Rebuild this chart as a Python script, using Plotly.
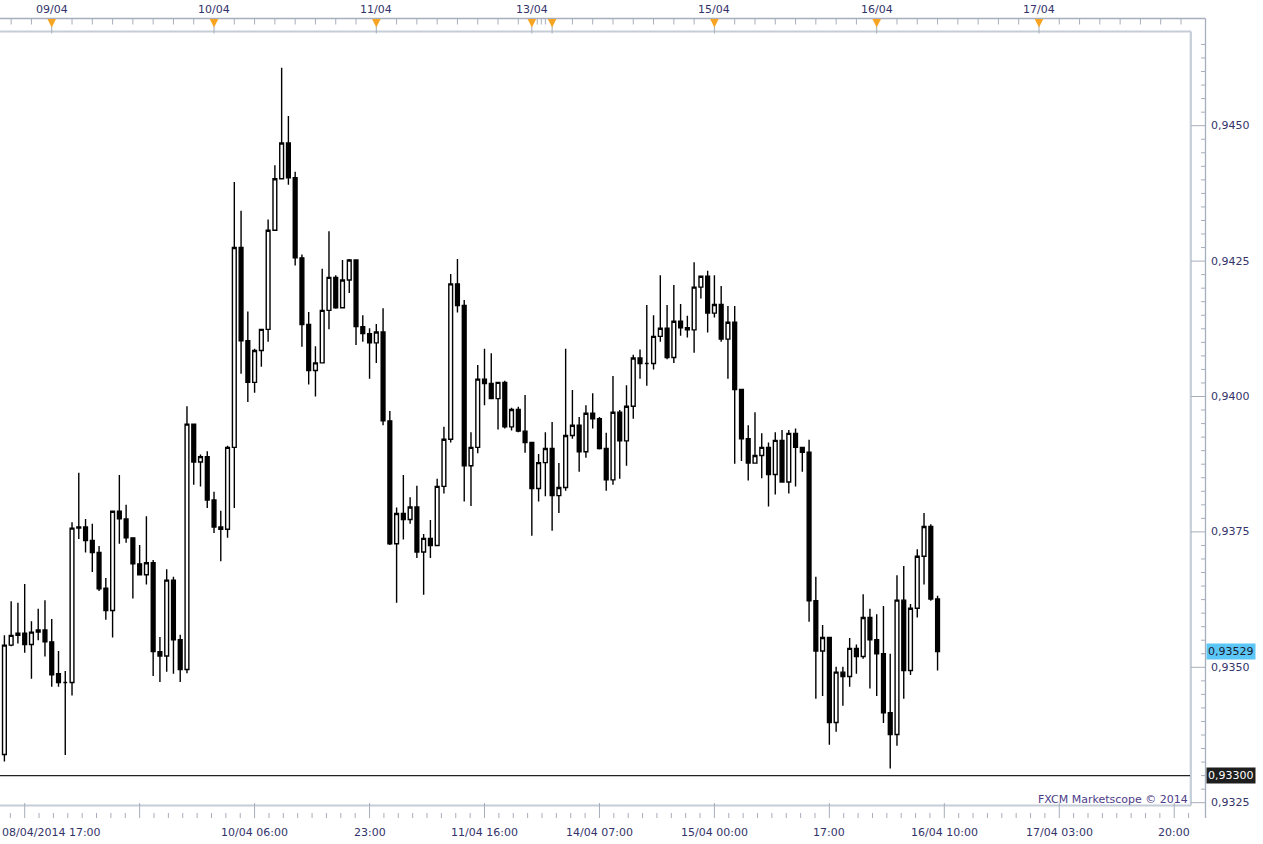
"""
plot.py - EUR/CHF style hourly candles (FXCM Marketscope look) rebuilt with Plotly.
"""
import plotly.graph_objects as go

# -----------------------------------------------------------------------------
# Data: hourly candles, 08/04/2014 17:00 onward (index = candle number)
# -----------------------------------------------------------------------------
OPEN = [
    0.93339, 0.93541, 0.93559, 0.93563, 0.93542, 0.93565, 0.93569, 0.93547, 0.93488, 0.93472,
    0.93472, 0.93759, 0.93759, 0.93734, 0.93712, 0.93646, 0.93605, 0.93788, 0.93774, 0.93739,
    0.93691, 0.93671, 0.93693, 0.93529, 0.93521, 0.93661, 0.93551, 0.93496, 0.93949, 0.93879,
    0.93889, 0.93809, 0.93759, 0.93755, 0.93906, 0.94275, 0.94103, 0.94026, 0.94085, 0.94124,
    0.94307, 0.94402, 0.94468, 0.94404, 0.94256, 0.94133, 0.94048, 0.94062, 0.94159, 0.94220,
    0.94164, 0.94215, 0.94252, 0.94129, 0.94116, 0.94099, 0.94119, 0.93955, 0.93728, 0.93784,
    0.93773, 0.93796, 0.93713, 0.93738, 0.93725, 0.93834, 0.93921, 0.94208, 0.94168, 0.93872,
    0.93906, 0.94032, 0.94024, 0.93996, 0.94026, 0.93944, 0.93976, 0.93936, 0.93915, 0.93830,
    0.93878, 0.93904, 0.93817, 0.93832, 0.93928, 0.93947, 0.93898, 0.93969, 0.93959, 0.93904,
    0.93846, 0.93971, 0.93918, 0.93982, 0.94071, 0.94061, 0.94061, 0.94111, 0.94126, 0.94072,
    0.94139, 0.94127, 0.94123, 0.94202, 0.94222, 0.94154, 0.94170, 0.94106, 0.94137, 0.94013,
    0.93922, 0.93877, 0.93891, 0.93906, 0.93856, 0.93919, 0.93842, 0.93932, 0.93906, 0.93897,
    0.93623, 0.93530, 0.93555, 0.93398, 0.93491, 0.93483, 0.93535, 0.93520, 0.93592, 0.93551,
    0.93525, 0.93416, 0.93376, 0.93624, 0.93494, 0.93609, 0.93705, 0.93760, 0.93626,
]
HIGH = [
    0.93559, 0.93622, 0.93619, 0.93654, 0.93585, 0.93608, 0.93624, 0.93589, 0.93530, 0.93493,
    0.93768, 0.93859, 0.93774, 0.93765, 0.93724, 0.93665, 0.93788, 0.93855, 0.93800, 0.93739,
    0.93726, 0.93779, 0.93698, 0.93556, 0.93681, 0.93667, 0.93560, 0.93982, 0.93949, 0.93893,
    0.93899, 0.93824, 0.93789, 0.93909, 0.94396, 0.94343, 0.94157, 0.94088, 0.94124, 0.94327,
    0.94427, 0.94607, 0.94518, 0.94415, 0.94262, 0.94156, 0.94093, 0.94236, 0.94305, 0.94224,
    0.94252, 0.94254, 0.94253, 0.94150, 0.94126, 0.94134, 0.94163, 0.93973, 0.93795, 0.93855,
    0.93814, 0.93835, 0.93746, 0.93772, 0.93848, 0.93944, 0.94226, 0.94254, 0.94178, 0.93934,
    0.94058, 0.94088, 0.94080, 0.94026, 0.94029, 0.93979, 0.93981, 0.94003, 0.93915, 0.93894,
    0.93934, 0.93953, 0.93877, 0.94088, 0.94012, 0.93962, 0.93984, 0.94006, 0.93962, 0.93933,
    0.94038, 0.93975, 0.94021, 0.94077, 0.94087, 0.94169, 0.94150, 0.94224, 0.94169, 0.94206,
    0.94171, 0.94149, 0.94248, 0.94222, 0.94232, 0.94224, 0.94204, 0.94167, 0.94167, 0.94013,
    0.93947, 0.93971, 0.93932, 0.93915, 0.93934, 0.93938, 0.93938, 0.93941, 0.93906, 0.93920,
    0.93667, 0.93578, 0.93555, 0.93501, 0.93501, 0.93554, 0.93542, 0.93635, 0.93608, 0.93598,
    0.93613, 0.93525, 0.93670, 0.93687, 0.93617, 0.93718, 0.93785, 0.93764, 0.93632,
]
LOW = [
    0.93326, 0.93539, 0.93544, 0.93527, 0.93479, 0.93550, 0.93520, 0.93464, 0.93464, 0.93338,
    0.93448, 0.93737, 0.93712, 0.93676, 0.93641, 0.93588, 0.93555, 0.93728, 0.93730, 0.93627,
    0.93671, 0.93653, 0.93484, 0.93473, 0.93492, 0.93488, 0.93473, 0.93489, 0.93837, 0.93834,
    0.93794, 0.93748, 0.93696, 0.93739, 0.93794, 0.94042, 0.93990, 0.94007, 0.94055, 0.94101,
    0.94307, 0.94402, 0.94391, 0.94242, 0.94092, 0.94022, 0.94000, 0.94062, 0.94124, 0.94162,
    0.94164, 0.94191, 0.94095, 0.94101, 0.94033, 0.94062, 0.93947, 0.93726, 0.93619, 0.93736,
    0.93765, 0.93702, 0.93634, 0.93702, 0.93725, 0.93821, 0.93915, 0.94155, 0.93806, 0.93798,
    0.93895, 0.93984, 0.93996, 0.93939, 0.93941, 0.93937, 0.93934, 0.93896, 0.93743, 0.93806,
    0.93816, 0.93752, 0.93785, 0.93826, 0.93922, 0.93861, 0.93887, 0.93941, 0.93902, 0.93826,
    0.93837, 0.93848, 0.93872, 0.93959, 0.94033, 0.94020, 0.94050, 0.94101, 0.94069, 0.94062,
    0.94112, 0.94109, 0.94081, 0.94181, 0.94118, 0.94146, 0.94101, 0.94033, 0.93876, 0.93881,
    0.93845, 0.93877, 0.93849, 0.93797, 0.93819, 0.93841, 0.93821, 0.93834, 0.93861, 0.93584,
    0.93442, 0.93447, 0.93357, 0.93381, 0.93429, 0.93464, 0.93488, 0.93516, 0.93461, 0.93447,
    0.93397, 0.93313, 0.93355, 0.93442, 0.93486, 0.93592, 0.93653, 0.93623, 0.93494,
]
CLOSE = [
    0.93541, 0.93559, 0.93563, 0.93542, 0.93565, 0.93569, 0.93547, 0.93486, 0.93472, 0.93472,
    0.93757, 0.93757, 0.93734, 0.93712, 0.93645, 0.93605, 0.93788, 0.93774, 0.93739, 0.93691,
    0.93671, 0.93693, 0.93529, 0.93521, 0.93661, 0.93551, 0.93496, 0.93949, 0.93879, 0.93889,
    0.93809, 0.93759, 0.93755, 0.93906, 0.94275, 0.94103, 0.94026, 0.94085, 0.94124, 0.94307,
    0.94402, 0.94468, 0.94404, 0.94256, 0.94133, 0.94048, 0.94062, 0.94159, 0.94220, 0.94164,
    0.94215, 0.94252, 0.94129, 0.94116, 0.94099, 0.94119, 0.93955, 0.93728, 0.93784, 0.93773,
    0.93796, 0.93713, 0.93738, 0.93725, 0.93834, 0.93921, 0.94208, 0.94168, 0.93872, 0.93906,
    0.94032, 0.94024, 0.93996, 0.94026, 0.93944, 0.93976, 0.93936, 0.93915, 0.93830, 0.93878,
    0.93904, 0.93817, 0.93832, 0.93928, 0.93947, 0.93898, 0.93969, 0.93959, 0.93904, 0.93846,
    0.93971, 0.93918, 0.93982, 0.94071, 0.94061, 0.94061, 0.94111, 0.94126, 0.94072, 0.94139,
    0.94127, 0.94123, 0.94202, 0.94222, 0.94154, 0.94170, 0.94106, 0.94137, 0.94013, 0.93922,
    0.93877, 0.93891, 0.93906, 0.93856, 0.93919, 0.93842, 0.93932, 0.93906, 0.93897, 0.93623,
    0.93530, 0.93555, 0.93398, 0.93491, 0.93483, 0.93535, 0.93520, 0.93592, 0.93551, 0.93525,
    0.93416, 0.93376, 0.93624, 0.93494, 0.93609, 0.93705, 0.93760, 0.93626, 0.93529,
]

# bottom time axis (candle index of each major tick + its label)
TIME_TICK_IDX = [3, 20, 37, 54, 71, 88, 105, 122, 139, 156, 173]
TIME_TICK_TEXT = ["", "", "10/04 06:00", "23:00", "11/04 16:00", "14/04 07:00",
                  "15/04 00:00", "17:00", "16/04 10:00", "17/04 03:00", "20:00"]
FIRST_TIME = "08/04/2014 17:00"

# top day markers
DAY_IDX = [7, 31, 55, 78, 81, 105, 129, 153]
DAY_TEXT = ["09/04", "10/04", "11/04", "13/04", "", "15/04", "16/04", "17/04"]

# price axis
PRICE_TICKS = [0.9325, 0.9350, 0.9375, 0.9400, 0.9425, 0.9450]
PRICE_TEXT = ["0,9325", "0,9350", "0,9375", "0,9400", "0,9425", "0,9450"]
LAST_PRICE, LAST_TEXT = 0.93529, "0,93529"
LEVEL_PRICE, LEVEL_TEXT = 0.93300, "0,93300"

# -----------------------------------------------------------------------------
# Geometry (pixels of the 1263x844 page)
# -----------------------------------------------------------------------------
W, H = 1263, 844
PL, PR, PT, PB = 0, 1190, 32, 805          # plot box
X0, DX = 4.4, 6.762                        # x pixel of candle 0, pixels per candle
Y_REF, Y_REF_PX, PX_PER_UNIT = 0.9325, 802.7, 54160.0

INK = "#33336a"
AXIS = "#a6aebb"
BORDER = "#c5cdd7"
FONT = "DejaVu Sans, Verdana, sans-serif"


def ix(px):            # pixel -> candle index
    return (px - X0) / DX


def py(pix):           # pixel -> paper y
    return (PB - pix) / (PB - PT)


def pxp(pix):          # pixel -> paper x
    return (pix - PL) / (PR - PL)


x_range = [ix(PL), ix(PR)]
y_range = [Y_REF - (PB - Y_REF_PX) / PX_PER_UNIT, Y_REF + (Y_REF_PX - PT) / PX_PER_UNIT]

fig = go.Figure(go.Candlestick(
    x=list(range(len(OPEN))), open=OPEN, high=HIGH, low=LOW, close=CLOSE,
    increasing=dict(line=dict(color="#000000", width=1.4), fillcolor="#ffffff"),
    decreasing=dict(line=dict(color="#000000", width=1.4), fillcolor="#000000"),
    whiskerwidth=0, hoverinfo="skip", showlegend=False))

shapes = []


def seg_path(points):
    return " ".join(f"M{a},{b} L{c},{d}" for a, b, c, d in points)


# frame lines
line = dict(color=AXIS, width=1.3)
shapes.append(dict(type="line", xref="paper", yref="paper",
                   x0=pxp(0), x1=pxp(1205.5), y0=py(18.5), y1=py(18.5), line=line))
shapes.append(dict(type="line", xref="paper", yref="paper",
                   x0=pxp(1205.5), x1=pxp(1205.5), y0=py(18.5), y1=py(818), line=line))
border = dict(color=BORDER, width=2.2)
shapes.append(dict(type="line", xref="paper", yref="paper",
                   x0=pxp(0), x1=pxp(1191), y0=py(31.5), y1=py(31.5), line=border))
shapes.append(dict(type="line", xref="paper", yref="paper",
                   x0=pxp(1190.8), x1=pxp(1190.8), y0=py(31.5), y1=py(805.5), line=border))
shapes.append(dict(type="line", xref="paper", yref="paper",
                   x0=pxp(0), x1=pxp(1191), y0=py(805.5), y1=py(805.5), line=border))

# bottom ticks
major = [(i, py(803), i, py(818)) for i in TIME_TICK_IDX]
minor = []
k = -1
while True:
    v = 3 + 2.125 * k
    if v > x_range[1]:
        break
    if k % 8 != 0:
        minor.append((v, py(813), v, py(818)))
    k += 1
shapes.append(dict(type="path", xref="x", yref="paper", path=seg_path(major + minor),
                   line=dict(color=AXIS, width=1)))

# top strip ticks (every 3 hours, squeezed over the weekend gap)
top_idx = list(range(1, 77, 3)) + [78.8, 79.4, 80.0] + list(range(84, 178, 3))
top_idx = [v for v in top_idx if v not in DAY_IDX]
shapes.append(dict(type="path", xref="x", yref="paper",
                   path=seg_path([(v, py(18.5), v, py(24.5)) for v in top_idx]),
                   line=dict(color=AXIS, width=1)))
shapes.append(dict(type="path", xref="x", yref="paper",
                   path=seg_path([(v, py(26), v, py(33.5)) for v in DAY_IDX]),
                   line=dict(color=AXIS, width=1)))
half = 4.3 / DX
for v in DAY_IDX:
    shapes.append(dict(type="path", xref="x", yref="paper",
                       path=f"M{v - half},{py(19)} L{v + half},{py(19)} L{v},{py(27.5)} Z",
                       fillcolor="#f7a422", line=dict(width=0)))

# right price ticks
rt = []
p = 0.9325
while p < y_range[1]:
    big = abs(round(p / 0.0025) * 0.0025 - p) < 1e-9
    rt.append((pxp(1191 if big else 1201), p, pxp(1205.5), p))
    p = round(p + 0.00025, 5)
shapes.append(dict(type="path", xref="paper", yref="y", path=seg_path(rt),
                   line=dict(color=AXIS, width=1)))

# horizontal level line
shapes.append(dict(type="line", xref="paper", yref="y", x0=0, x1=1,
                   y0=LEVEL_PRICE, y1=LEVEL_PRICE, line=dict(color="#222222", width=1.3)))

ann = []
tf = dict(family=FONT, size=11, color=INK)
for i, t in zip(TIME_TICK_IDX, TIME_TICK_TEXT):
    if t:
        ann.append(dict(x=i, xref="x", y=py(832), yref="paper", text=t, showarrow=False,
                        xanchor="center", yanchor="middle", font=tf))
ann.append(dict(x=pxp(0), xref="paper", y=py(832), yref="paper", text=FIRST_TIME,
                showarrow=False, xanchor="left", yanchor="middle", font=tf))
for i, t in zip(DAY_IDX, DAY_TEXT):
    if t:
        ann.append(dict(x=i, xref="x", y=py(9), yref="paper", text=t, showarrow=False,
                        xanchor="center", yanchor="middle", font=tf))
for p, t in zip(PRICE_TICKS, PRICE_TEXT):
    ann.append(dict(x=pxp(1208.5), xref="paper", y=p, yref="y", text=t, showarrow=False,
                    xanchor="left", yanchor="middle", font=tf))
ann.append(dict(x=pxp(1205.5), xref="paper", y=LAST_PRICE, yref="y", text=LAST_TEXT,
                showarrow=False, xanchor="left", yanchor="middle", bgcolor="#5cc6f6",
                borderpad=1, font=dict(family=FONT, size=11, color="#1a1a2e")))
ann.append(dict(x=pxp(1205.5), xref="paper", y=LEVEL_PRICE, yref="y", text=LEVEL_TEXT,
                showarrow=False, xanchor="left", yanchor="middle", bgcolor="#1e1e1e",
                borderpad=1, font=dict(family=FONT, size=11, color="#ffffff")))
ann.append(dict(x=pxp(1189.5), xref="paper", y=py(799), yref="paper",
                text="FXCM Marketscope © 2014", showarrow=False, xanchor="right",
                yanchor="middle", font=dict(family=FONT, size=11, color="#4d3c88")))

fig.update_layout(
    width=W, height=H,
    margin=dict(l=PL, r=W - PR, t=PT, b=H - PB, pad=0),
    paper_bgcolor="#ffffff", plot_bgcolor="#ffffff",
    boxgap=0.2,
    shapes=shapes, annotations=ann,
    font=dict(family=FONT, size=11, color=INK),
)
fig.update_xaxes(range=x_range, showgrid=False, zeroline=False, showticklabels=False,
                 ticks="", showline=False, fixedrange=True, rangeslider=dict(visible=False))
fig.update_yaxes(range=y_range, showgrid=False, zeroline=False, showticklabels=False,
                 ticks="", showline=False, fixedrange=True)

fig.write_html("out.html", config={"displayModeBar": False},
               post_script="document.body.style.margin='0';document.body.style.overflow='hidden';")
